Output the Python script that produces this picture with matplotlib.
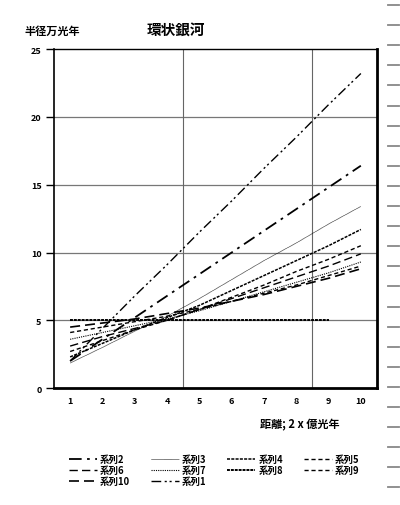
import matplotlib
matplotlib.use("Agg")
import matplotlib.pyplot as plt
from matplotlib.lines import Line2D
import numpy as np

plt.rcParams['font.family'] = ['Noto Sans CJK JP', 'DejaVu Sans']

x = list(range(1, 11))
xticklabels = [str(v) for v in x]

s1 = [2.0, 4.4, 6.8, 9.1, 11.5, 13.8, 16.2, 18.5, 20.9, 23.2]
s2 = [2.0, 3.6, 5.2, 6.8, 8.4, 10.0, 11.6, 13.2, 14.8, 16.4]
s3 = [1.85, 3.0, 4.2, 5.3, 6.6, 8.0, 9.4, 10.7, 12.1, 13.4]
s4 = [2.3, 3.3, 4.3, 5.2, 6.1, 7.2, 8.3, 9.4, 10.5, 11.7]
s5 = [2.7, 3.5, 4.3, 5.0, 5.8, 6.7, 7.6, 8.6, 9.5, 10.5]
s6 = [3.1, 3.8, 4.4, 5.0, 5.8, 6.6, 7.4, 8.2, 9.0, 9.9]
s7 = [3.6, 4.1, 4.6, 5.1, 5.7, 6.4, 7.1, 7.8, 8.5, 9.3]
s8 = [5.0, 5.0, 5.0, 5.0, 5.0, 5.0, 5.0, 5.0, 5.0, np.nan]
s9 = [4.1, 4.5, 4.9, 5.3, 5.8, 6.4, 7.0, 7.6, 8.3, 9.0]
s10 = [4.5, 4.8, 5.1, 5.5, 5.9, 6.4, 6.9, 7.5, 8.1, 8.8]

series = {
    "系列1": (s1, (0, (7, 2.5, 1.5, 2, 1.5, 2.5)), 1.0),
    "系列2": (s2, (0, (7, 3, 1.5, 3)), 1.3),
    "系列3": (s3, (0, (1, 0.5)), 0.5),
    "系列4": (s4, (0, (2, 0.8)), 1.1),
    "系列5": (s5, (0, (3, 2)), 1.0),
    "系列6": (s6, (0, (6, 3)), 1.0),
    "系列7": (s7, (0, (1, 1)), 0.8),
    "系列8": (s8, (0, (1.5, 0.5)), 1.4),
    "系列9": (s9, (0, (3, 2)), 1.0),
    "系列10": (s10, (0, (6, 3)), 1.2),
}

fig = plt.figure(figsize=(4.0, 5.06), dpi=100)
ax = fig.add_axes([0.135, 0.231, 0.8075, 0.67])

handles = {}
for name, (vals, ls, lw) in series.items():
    h, = ax.plot(x, vals, color="black", linestyle=ls, linewidth=lw, label=name)
    handles[name] = h

ax.set_xlim(0.5, 10.5)
ax.set_ylim(0, 25)
ax.set_yticks([0, 5, 10, 15, 20, 25])
ax.set_xticks(x)
ax.set_xticklabels(xticklabels)
for v in [5, 10, 15, 20]:
    ax.axhline(v, color="#777777", linewidth=0.9, zorder=0)
for v in [4.5, 8.5]:
    ax.axvline(v, color="#666666", linewidth=0.8, zorder=0)

ax.tick_params(axis="y", direction="out", length=6, width=1, labelsize=6.5, pad=3)
ax.tick_params(axis="x", length=0, labelsize=6.5, pad=6)
for lab in ax.get_xticklabels() + ax.get_yticklabels():
    lab.set_fontweight("bold")

ax.spines["left"].set_linewidth(1.2)
ax.spines["top"].set_linewidth(1.0)
ax.spines["right"].set_linewidth(2.0)
ax.spines["bottom"].set_linewidth(2.0)

fig.text(0.44, 0.94, "環状銀河", ha="center", va="center", fontsize=10.5, fontweight="bold")
fig.text(0.13, 0.938, "半径万光年", ha="center", va="center", fontsize=8, fontweight="bold")
fig.text(0.75, 0.16, "距離; 2 x 億光年", ha="center", va="center", fontsize=8, fontweight="bold")

order = ["系列2", "系列6", "系列10", "系列3", "系列7", "系列1", "系列4", "系列8", "系列5", "系列9"]
fig.legend([handles[n] for n in order], order, ncol=4, loc="center",
           bbox_to_anchor=(0.535, 0.069), frameon=False,
           handlelength=3.0, handletextpad=0.3, columnspacing=2.2,
           labelspacing=0.08, prop={"weight": "bold", "size": 6.8})

# short grey marks down the right edge
for yp in np.arange(6, 492, 20.1):
    fig.add_artist(Line2D([388 / 400, 399 / 400], [1 - yp / 506, 1 - yp / 506],
                          transform=fig.transFigure, color="#888888", linewidth=1.3))

fig.savefig("out.png", dpi=100)
